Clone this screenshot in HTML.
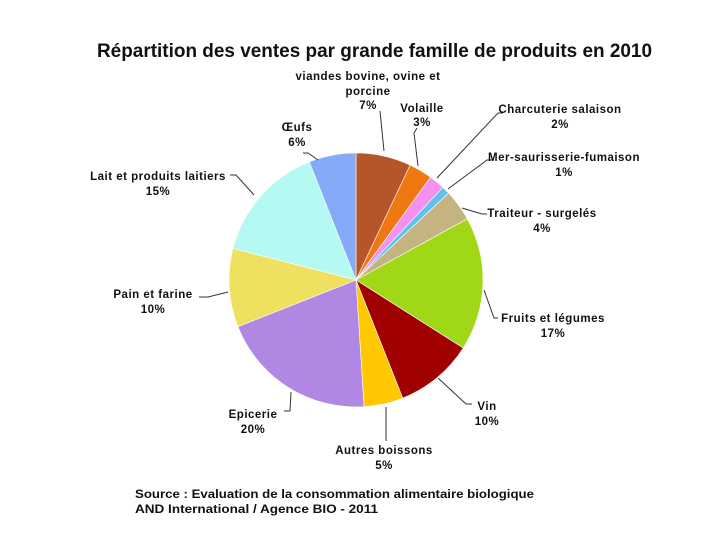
<!DOCTYPE html>
<html><head><meta charset="utf-8"><style>
html,body{margin:0;padding:0;background:#fff;}
svg{display:block;}
text{font-family:"Liberation Sans",sans-serif;font-weight:bold;fill:#111;}
.l{font-size:11.5px;text-anchor:middle;letter-spacing:0.5px;}
.s{font-size:12px;}
</style></head><body>
<svg width="710" height="546" viewBox="0 0 710 546">
<rect width="710" height="546" fill="#fff"/>
<text x="97" y="57" textLength="555" lengthAdjust="spacingAndGlyphs" style="font-size:19px">Répartition des ventes par grande famille de produits en 2010</text>
<g stroke="#fff" stroke-width="0.6">
<path d="M356,280 L356,153 A127,127 0 0 1 410.1,165.1 Z" fill="#b5552a"/>
<path d="M356,280 L410.1,165.1 A127,127 0 0 1 430.6,177.3 Z" fill="#f07810"/>
<path d="M356,280 L430.6,177.3 A127,127 0 0 1 442.9,187.4 Z" fill="#f490f0"/>
<path d="M356,280 L442.9,187.4 A127,127 0 0 1 448.6,193.1 Z" fill="#60c0f0"/>
<path d="M356,280 L448.6,193.1 A127,127 0 0 1 467.3,218.8 Z" fill="#c4b482"/>
<path d="M356,280 L467.3,218.8 A127,127 0 0 1 463.2,348.0 Z" fill="#a0d818"/>
<path d="M356,280 L463.2,348.0 A127,127 0 0 1 402.7,398.1 Z" fill="#a00000"/>
<path d="M356,280 L402.7,398.1 A127,127 0 0 1 364.0,406.7 Z" fill="#ffc800"/>
<path d="M356,280 L364.0,406.7 A127,127 0 0 1 237.9,326.7 Z" fill="#b088e4"/>
<path d="M356,280 L237.9,326.7 A127,127 0 0 1 233.0,248.4 Z" fill="#f0e060"/>
<path d="M356,280 L233.0,248.4 A127,127 0 0 1 309.3,161.9 Z" fill="#b4faf2"/>
<path d="M356,280 L309.3,161.9 A127,127 0 0 1 356,153 Z" fill="#84aaf8"/>
</g>
<g stroke="#333" stroke-width="1" fill="none">
<path d="M380,111 L384,151"/>
<path d="M417,128 L414,133 L418,166"/>
<path d="M503,113 L498,113 L437,178"/>
<path d="M492,160 L487,160 L448,189"/>
<path d="M487,214 L482,214 L462,208"/>
<path d="M498,318 L494,318 L484,290"/>
<path d="M472,404 L466,404 L438,378"/>
<path d="M386,441 L386,407"/>
<path d="M284,411 L290,411 L291,392"/>
<path d="M199,297 L208,297 L228,292"/>
<path d="M230,175 L236,175 L254,195"/>
<path d="M303,153 L308,153 L318,160"/>
</g>
<text class="l" x="368" y="80">viandes bovine, ovine et</text>
<text class="l" x="368" y="95">porcine</text>
<text class="l" x="368" y="109">7%</text>
<text class="l" x="422" y="112">Volaille</text>
<text class="l" x="422" y="126">3%</text>
<text class="l" x="560" y="113">Charcuterie salaison</text>
<text class="l" x="560" y="128">2%</text>
<text class="l" x="564" y="161">Mer-saurisserie-fumaison</text>
<text class="l" x="564" y="176">1%</text>
<text class="l" x="542" y="217">Traiteur - surgelés</text>
<text class="l" x="542" y="232">4%</text>
<text class="l" x="553" y="322">Fruits et légumes</text>
<text class="l" x="553" y="337">17%</text>
<text class="l" x="487" y="410">Vin</text>
<text class="l" x="487" y="425">10%</text>
<text class="l" x="384" y="454">Autres boissons</text>
<text class="l" x="384" y="469">5%</text>
<text class="l" x="253" y="418">Epicerie</text>
<text class="l" x="253" y="433">20%</text>
<text class="l" x="153" y="298">Pain et farine</text>
<text class="l" x="153" y="313">10%</text>
<text class="l" x="158" y="180">Lait et produits laitiers</text>
<text class="l" x="158" y="195">15%</text>
<text class="l" x="297" y="131">Œufs</text>
<text class="l" x="297" y="146">6%</text>
<text class="s" x="135" y="498" textLength="399" lengthAdjust="spacingAndGlyphs">Source : Evaluation de la consommation alimentaire biologique</text>
<text class="s" x="135" y="513" textLength="243" lengthAdjust="spacingAndGlyphs">AND International / Agence BIO - 2011</text>
</svg>
</body></html>
